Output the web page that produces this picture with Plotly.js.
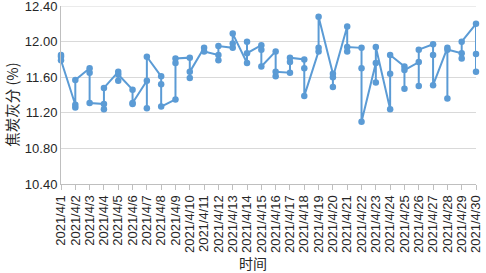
<!DOCTYPE html>
<html>
<head>
<meta charset="utf-8">
<script src="https://cdn.plot.ly/plotly-3.0.1.min.js"></script>
<style>html,body{margin:0;padding:0;background:#fff;}#chart{width:486px;height:273px;}</style>
</head>
<body>
<div id="chart"></div>
<script>
// Dates (April 2021) and three readings per day, in plotting order
const days = [1,2,3,4,5,6,7,8,9,10,11,12,13,14,15,16,17,18,19,20,21,22,23,24,25,26,27,28,29,30];
const dailyAsh = [
  [11.85, 11.83, 11.79],
  [11.29, 11.26, 11.57],
  [11.70, 11.65, 11.31],
  [11.30, 11.24, 11.48],
  [11.66, 11.56, 11.63],
  [11.46, 11.30, 11.31],
  [11.56, 11.25, 11.83],
  [11.61, 11.52, 11.27],
  [11.35, 11.76, 11.81],
  [11.82, 11.59, 11.66],
  [11.93, 11.89],
  [11.85, 11.79, 11.95],
  [11.93, 11.98, 12.09],
  [11.76, 12.00, 11.87],
  [11.96, 11.91, 11.72],
  [11.89, 11.61, 11.66],
  [11.65, 11.77, 11.82],
  [11.80, 11.70, 11.39],
  [11.89, 11.93, 12.28],
  [11.64, 11.49, 11.60],
  [12.17, 11.89, 11.94],
  [11.93, 11.70, 11.10],
  [11.76, 11.54, 11.94],
  [11.24, 11.64, 11.85],
  [11.72, 11.47, 11.68],
  [11.77, 11.50, 11.91],
  [11.97, 11.85, 11.51],
  [11.93, 11.36, 11.91],
  [11.87, 11.81, 12.00],
  [12.20, 11.86, 11.66]
];
const yTicks = [10.40, 10.80, 11.20, 11.60, 12.00, 12.40];
const xTitle = '时间';
const yTitle = '焦炭灰分 (%)';

const pad = n => (n < 10 ? '0' + n : '' + n);
const xs = [], ys = [];
days.forEach((d, i) => {
  dailyAsh[i].forEach(v => { xs.push('2021-04-' + pad(d)); ys.push(v); });
});
const tickVals = days.map(d => '2021-04-' + pad(d));
const tickText = days.map(d => '2021/4/' + d);

const trace = {
  x: xs, y: ys, type: 'scatter', mode: 'lines+markers',
  line: {color: '#5b9bd5', width: 2},
  marker: {color: '#5b9bd5', size: 6.5},
  hoverinfo: 'x+y', cliponaxis: false
};

const txt = '#262626';
const yMax = yTicks[yTicks.length - 1];
const layout = {
  width: 486, height: 273,
  margin: {l: 61, r: 10, t: 6, b: 89},
  paper_bgcolor: '#fff', plot_bgcolor: '#fff',
  showlegend: false,
  font: {family: 'Liberation Sans, Arial, sans-serif', color: txt, size: 13},
  xaxis: {
    type: 'date',
    range: ['2021-04-01', '2021-04-30'],
    tickmode: 'array', tickvals: tickVals, ticktext: tickText,
    tickangle: -90,
    tickfont: {size: 13, color: txt},
    ticks: 'outside', ticklen: 5, tickcolor: '#bfbfbf',
    showgrid: false, zeroline: false,
    showline: true, linecolor: '#bfbfbf', linewidth: 1
  },
  yaxis: {
    range: [10.3995, 12.4005],
    tickmode: 'array', tickvals: yTicks, ticktext: yTicks.map(v => v.toFixed(2)),
    tickfont: {size: 13, color: txt},
    ticklabeloverflow: 'allow',
    ticks: '', showgrid: true, gridcolor: '#d9d9d9', gridwidth: 1,
    zeroline: false, showline: true, linecolor: '#bfbfbf', linewidth: 1
  },
  shapes: [
    {type: 'line', xref: 'paper', yref: 'y', x0: 0, x1: 1, y0: yMax, y1: yMax,
     line: {color: '#d9d9d9', width: 1}, layer: 'below'}
  ],
  annotations: [
    {text: yTitle, xref: 'paper', yref: 'paper', x: -0.118, y: 0.445, xanchor: 'center', yanchor: 'middle',
     textangle: -90, showarrow: false, font: {family: 'Noto Sans CJK SC', size: 14.5, color: txt}},
    {text: xTitle, xref: 'paper', yref: 'paper', x: 0.463, y: -0.445, xanchor: 'center', yanchor: 'middle',
     showarrow: false, font: {family: 'Noto Sans CJK SC', size: 14, color: txt}}
  ]
};

Plotly.newPlot('chart', [trace], layout, {staticPlot: true, displayModeBar: false});
</script>
</body>
</html>
